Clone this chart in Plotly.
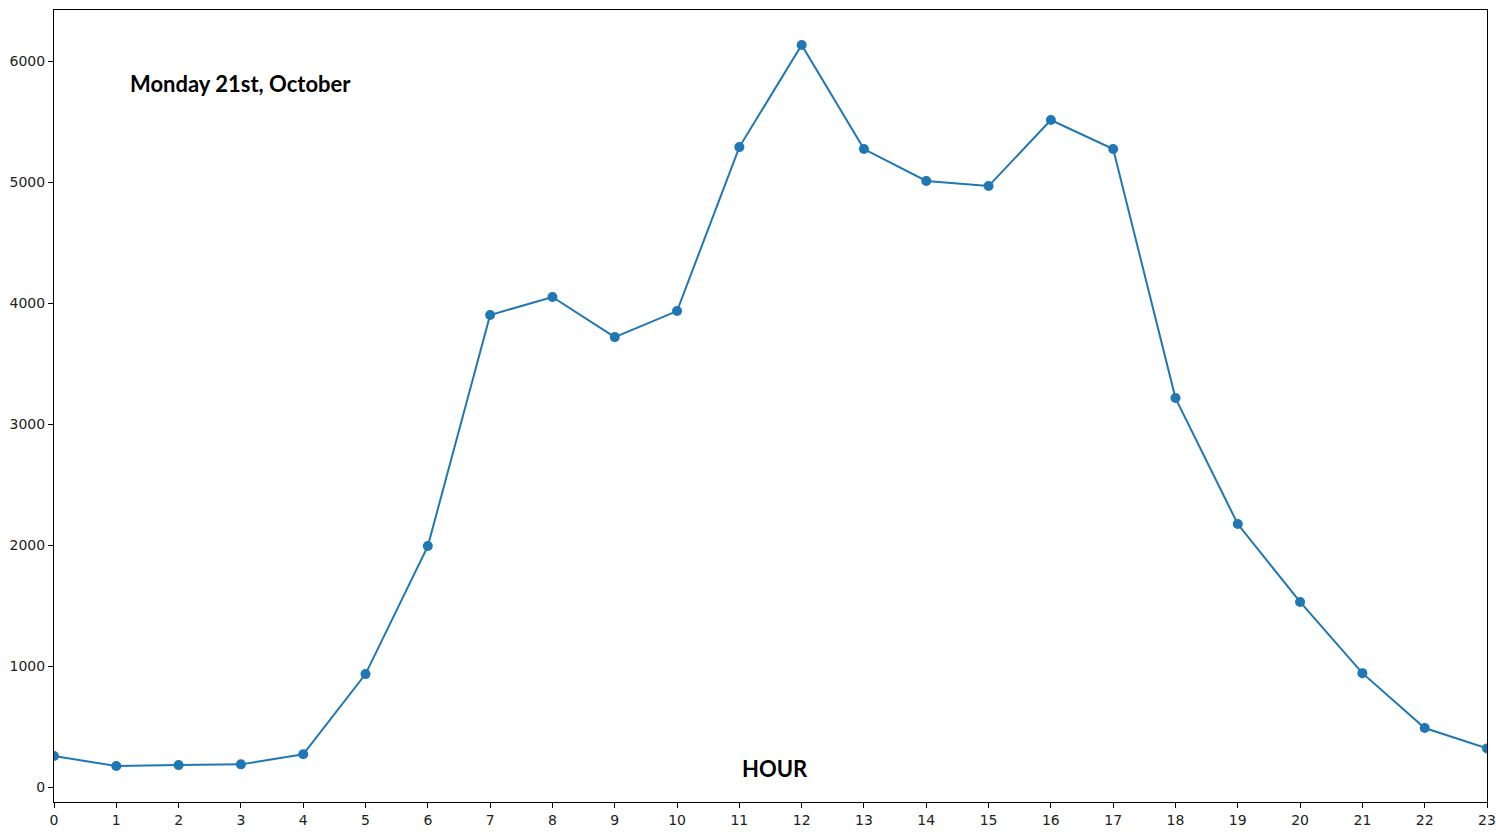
import plotly.graph_objects as go

hours = list(range(24))
counts = [259, 176, 184, 190, 273, 936, 1994, 3903, 4052, 3721, 3936, 5291,
          6135, 5275, 5011, 4969, 5515, 5275, 3217, 2176, 1532, 944, 490, 322]
y_ticks = [0, 1000, 2000, 3000, 4000, 5000, 6000]
title_text = "Monday 21st, October"
xlabel_text = "HOUR"

fig = go.Figure()
fig.add_trace(go.Scatter(
    x=hours, y=counts, mode="lines+markers",
    line=dict(color="#1f77b4", width=2),
    marker=dict(color="#1f77b4", size=10),
    showlegend=False,
))

axis_common = dict(
    showline=True, linecolor="black", linewidth=1, mirror=True,
    ticks="outside", ticklen=5, tickcolor="black", tickwidth=1,
    showgrid=False, zeroline=False, automargin=False,
    tickfont=dict(family="DejaVu Sans", size=14, color="#222222"),
)

fig.update_layout(
    width=1496, height=834,
    margin=dict(l=54, r=9, t=10, b=32),
    plot_bgcolor="white", paper_bgcolor="white",
    xaxis=dict(range=[0, 23], tickmode="array", tickvals=hours,
               ticktext=[str(h) for h in hours], **axis_common),
    yaxis=dict(range=[-121, 6424], tickmode="array", tickvals=y_ticks,
               ticktext=[str(v) for v in y_ticks], **axis_common),
    annotations=[
        dict(text=f"<b>{title_text}</b>", xref="paper", yref="paper",
             x=0.0515, y=0.9066, xanchor="left", yanchor="middle",
             showarrow=False, font=dict(family="Lato", size=22, color="black")),
        dict(text=f"<b>{xlabel_text}</b>", xref="paper", yref="paper",
             x=0.503, y=0.0417, xanchor="center", yanchor="middle",
             showarrow=False, font=dict(family="Lato", size=22, color="black")),
    ],
)

fig.write_html(
    "out.html",
    config={"displayModeBar": False},
    post_script="document.body.style.margin='0';document.body.style.padding='0';",
)
